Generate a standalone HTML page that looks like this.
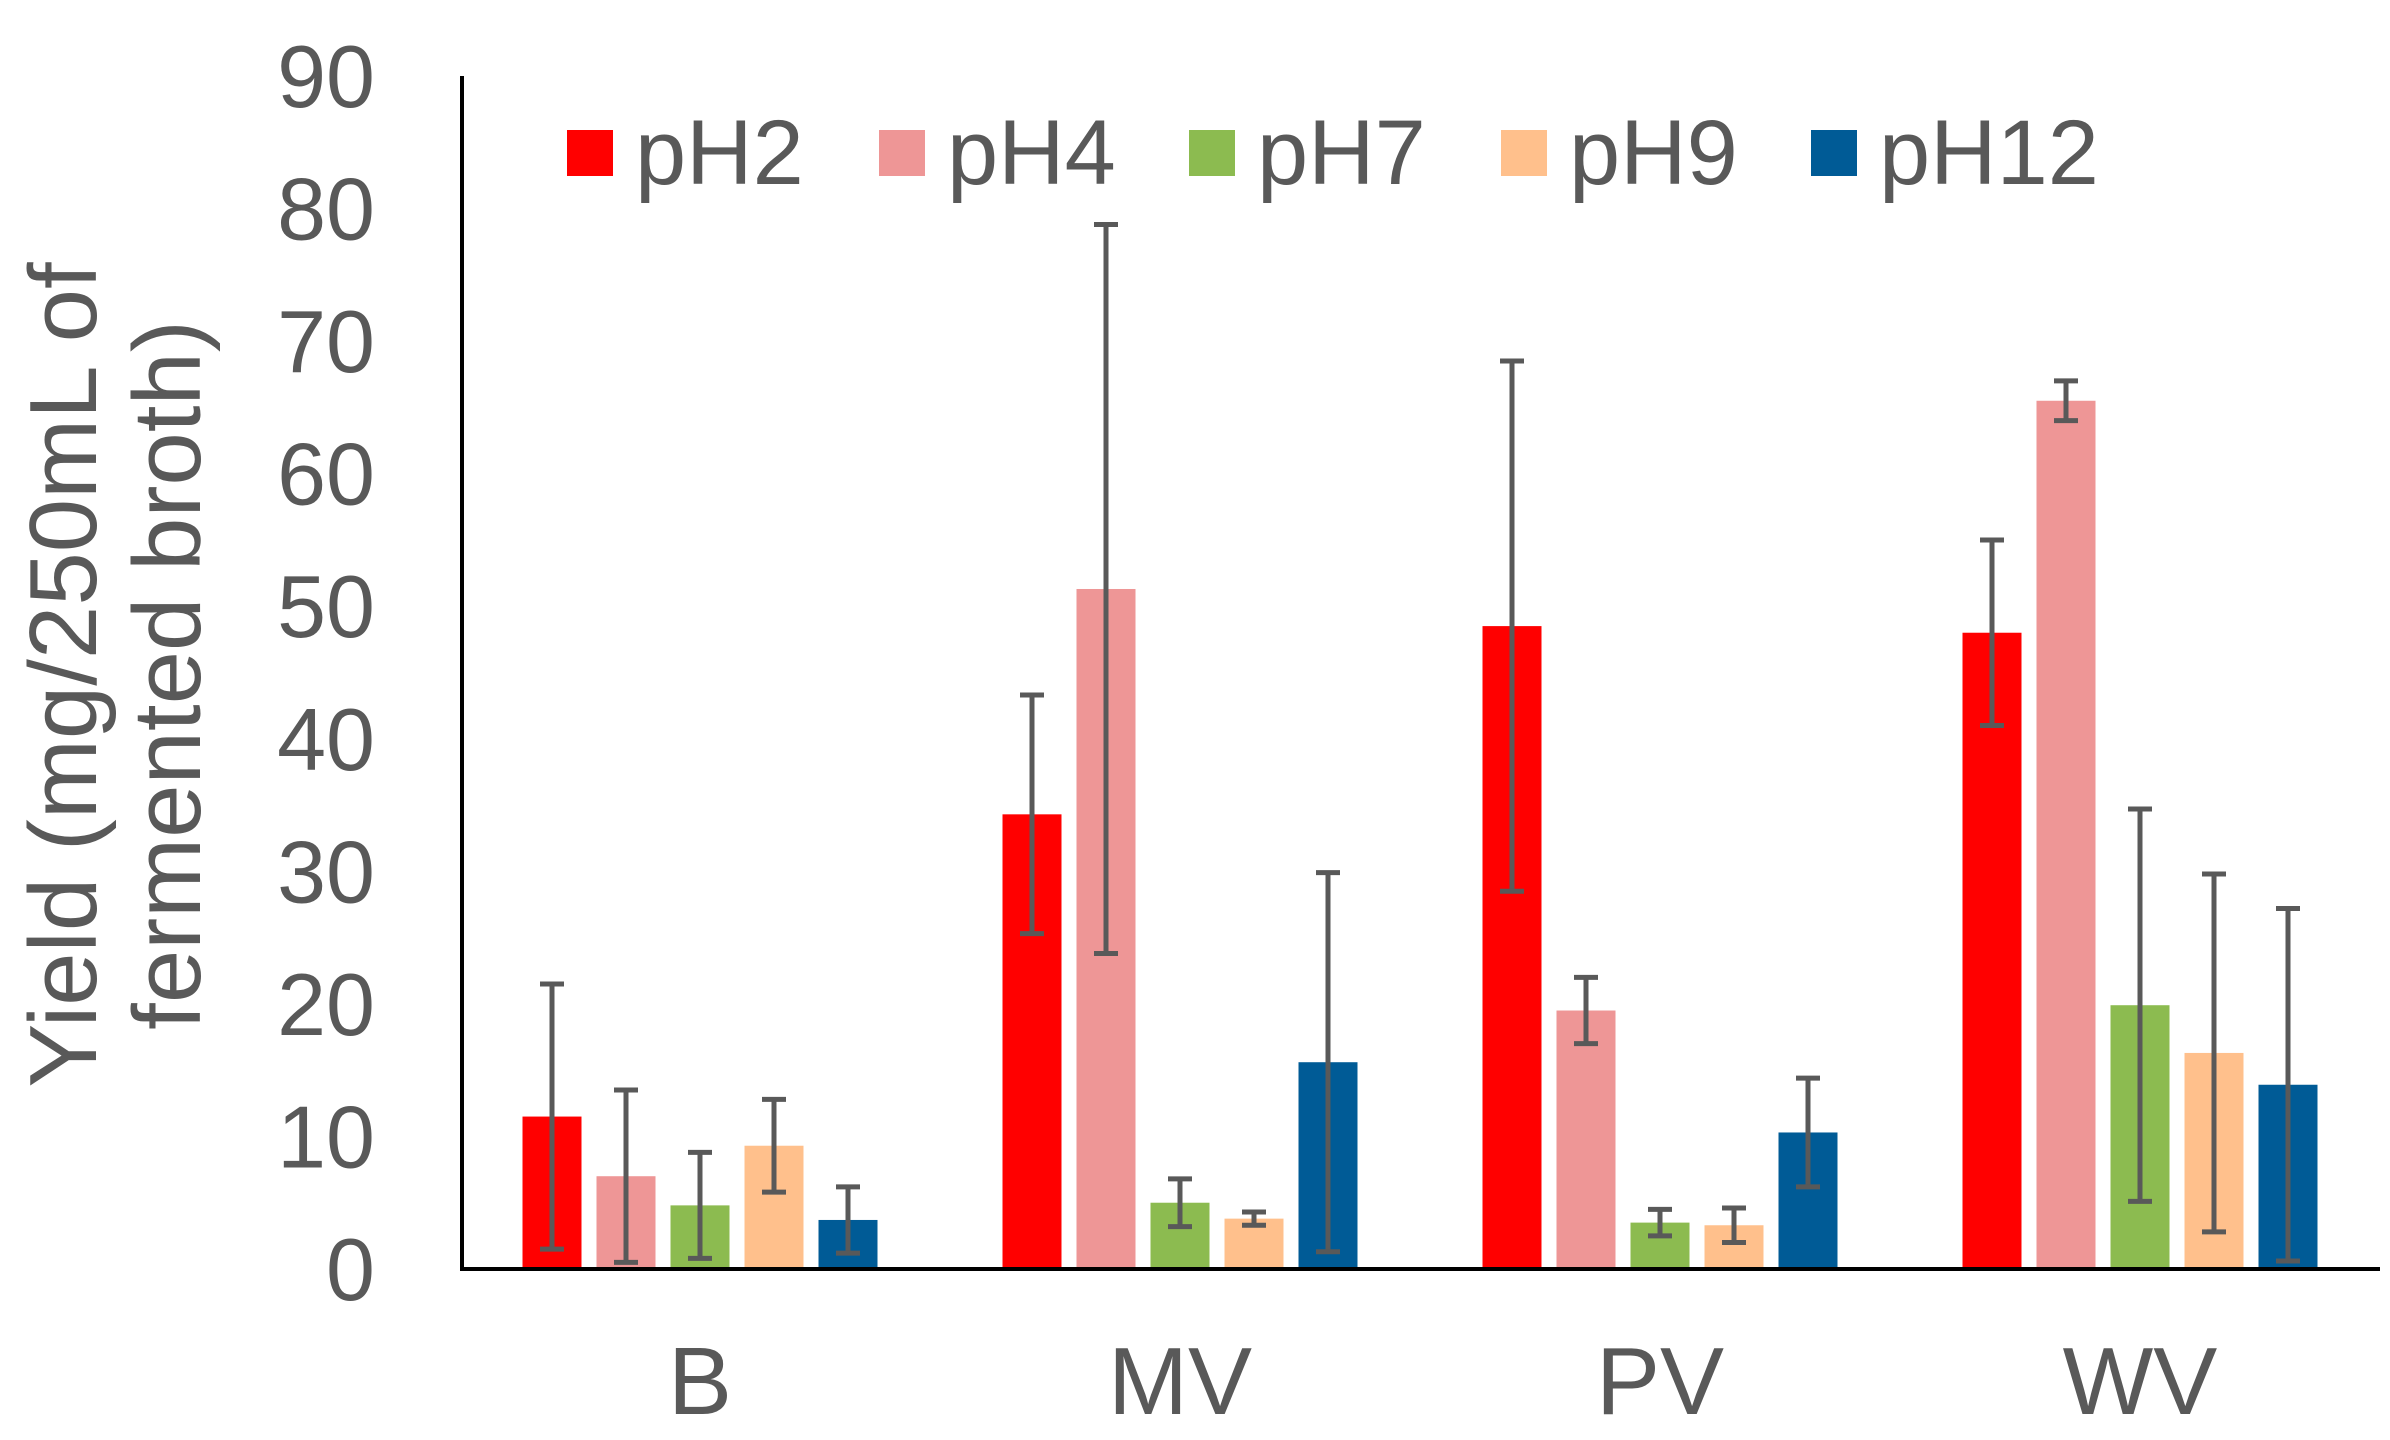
<!DOCTYPE html>
<html><head><meta charset="utf-8"><style>
body{margin:0;background:#fff}
svg{display:block}
text{font-family:"Liberation Sans",Arial,sans-serif;fill:#595959}
</style></head><body>
<svg id="chart" width="2390" height="1440" viewBox="0 0 2390 1440">
<g id="yt"></g>
<text transform="translate(96,675) rotate(-90)" text-anchor="middle" font-size="96">Yield (mg/250mL of</text>
<text transform="translate(200,675) rotate(-90)" text-anchor="middle" font-size="96">fermented broth)</text>
<g id="bars"></g>
<line x1="462" y1="76" x2="462" y2="1269" stroke="#000" stroke-width="4"/>
<line x1="460" y1="1269" x2="2380" y2="1269" stroke="#000" stroke-width="4"/>
<g id="xl"></g>
<g id="leg"></g>
</svg>
<script>
const categories=["B","MV","PV","WV"];
const series=["pH2","pH4","pH7","pH9","pH12"];
const colors=["#ff0000","#ee9696","#8cbb50","#ffc08c","#005b96"];
const pH2=[11.5,34.3,48.5,48];
const pH4=[7,51.3,19.5,65.5];
const pH7=[4.8,5,3.5,19.9];
const pH9=[9.3,3.8,3.3,16.3];
const pH12=[3.7,15.6,10.3,13.9];
const err2=[10,9,20,7];
const err4=[6.5,27.5,2.5,1.5];
const err7=[4,1.8,1,14.8];
const err9=[3.5,0.5,1.3,13.5];
const err12=[2.5,14.3,4.1,13.3];
const yTicks=[0,10,20,30,40,50,60,70,80,90];
const values=[pH2,pH4,pH7,pH9,pH12];
const errs=[err2,err4,err7,err9,err12];
const NS="http://www.w3.org/2000/svg";
const y0=1269,ypx=(1269-76)/90;
function yScale(v){return y0-v*ypx;}
function xCenter(ci){return 700+ci*480;}
function mk(tag,attrs,parent){const e=document.createElementNS(NS,tag);for(const k in attrs)e.setAttribute(k,attrs[k]);parent.appendChild(e);return e;}
const yt=document.getElementById('yt');
yTicks.forEach(t=>{const e=mk('text',{x:375,y:yScale(t)+31,'text-anchor':'end','font-size':88},yt);e.textContent=t;

});
const bars=document.getElementById('bars');
const bw=59,pitch=74;
categories.forEach((c,ci)=>{
 series.forEach((s,si)=>{
  const v=values[si][ci],er=errs[si][ci];
  const cx=xCenter(ci)+(si-2)*pitch;
  const r=mk('rect',{x:cx-bw/2,y:yScale(v),width:bw,height:y0-yScale(v),fill:colors[si]},bars);
  
  
  const g=mk('g',{stroke:'#595959','stroke-width':5},bars);
  
  
  const lo=Math.max(0,v-er),hi=v+er;
  mk('line',{x1:cx,x2:cx,y1:yScale(hi),y2:yScale(lo)},g);
  mk('line',{x1:cx-12,x2:cx+12,y1:yScale(hi),y2:yScale(hi)},g);
  mk('line',{x1:cx-12,x2:cx+12,y1:yScale(lo),y2:yScale(lo)},g);
 });
});
const xl=document.getElementById('xl');
categories.forEach((c,ci)=>{const e=mk('text',{x:xCenter(ci),y:1414,'text-anchor':'middle','font-size':96},xl);e.textContent=c;

});
const leg=document.getElementById('leg');
const legX=[567,879,1189,1501,1811];
series.forEach((s,si)=>{
 const g=mk('g',{},leg);
 
 
 mk('rect',{x:legX[si],y:130,width:46,height:46,fill:colors[si]},g);
 const t=mk('text',{x:legX[si]+68,y:184,'font-size':92},g);t.textContent=s;
});
</script>
</body></html>
